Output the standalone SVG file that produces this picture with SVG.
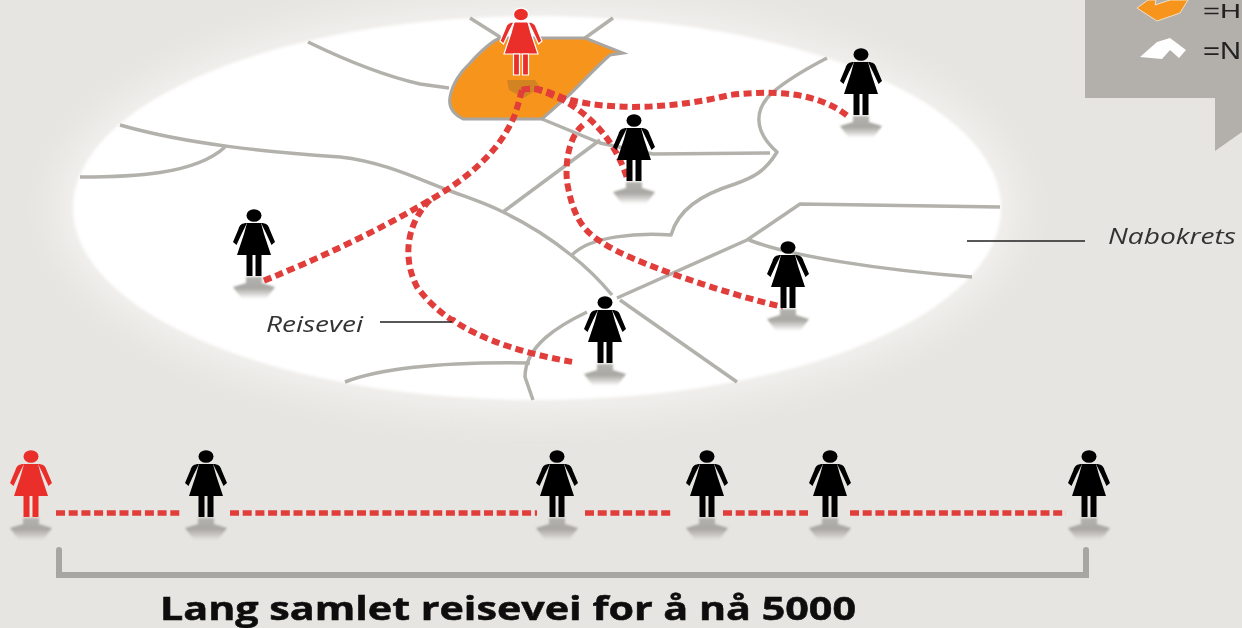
<svg xmlns="http://www.w3.org/2000/svg" width="1242" height="628" viewBox="0 0 1242 628">
<style>
.road{fill:none;stroke:#b3b1ac;stroke-width:3.500;stroke-linejoin:round}
.trip{fill:none;stroke:#e03c3a;stroke-width:6;stroke-dasharray:8 4.500}
.row{fill:none;stroke:#e03c3a;stroke-width:5.500;stroke-dasharray:9 3.700}
.lead{fill:none;stroke:#222;stroke-width:1.500}
.lab{font-family:"Open Sans","Liberation Sans",sans-serif;font-style:italic;font-size:22px;fill:#333}
.leg{font-family:"Liberation Sans",Arial,sans-serif;font-size:23px;fill:#222}
.red{fill:#ea2f2c}
.blk{fill:#050505}
</style>
<defs>
<filter id="glow" x="-20%" y="-30%" width="140%" height="160%"><feGaussianBlur stdDeviation="20"/></filter>
<filter id="edge" x="-5%" y="-5%" width="110%" height="110%"><feGaussianBlur stdDeviation="1.500"/></filter>
<filter id="soft" x="-5%" y="-5%" width="110%" height="110%"><feGaussianBlur stdDeviation="0.7"/></filter>
<filter id="shblur" x="-20%" y="-20%" width="140%" height="140%"><feGaussianBlur stdDeviation="1.300"/></filter>
<linearGradient id="sh" x1="0" y1="0" x2="0" y2="1"><stop offset="0" stop-color="#b5b3af"/><stop offset=".5" stop-color="#a9a7a3"/><stop offset="1" stop-color="#a9a7a3" stop-opacity="0"/></linearGradient>
<g id="person">
<ellipse cx="0" cy="6.500" rx="7.500" ry="6.300"/>
<path d="M-7 14H7L10 25 17 46H-17L-10 25Z"/>
<path d="M-7 14C-12 14-14.500 16-15.500 20L-21 33-17.500 36-12 24-9 18ZM7 14C12 14 14.500 16 15.500 20L21 33 17.500 36 12 24 9 18Z"/>
<path d="M-7.500 46H-1.500V67H-7.500ZM1.500 46H7.500V67H1.500Z"/>
</g>
<path id="shadow" d="M-8 68H8V74L21 78 12 90H-12L-21 78-8 74Z" fill="url(#sh)" filter="url(#shblur)"/>
</defs>
<rect width="1242" height="628" fill="#e7e5e1"/>
<ellipse cx="537" cy="208" rx="480" ry="205" fill="#fff" opacity="0.5" filter="url(#glow)"/>
<ellipse id="map" cx="537" cy="208" rx="464" ry="192" fill="#fff" filter="url(#edge)"/>
<g id="roads" filter="url(#soft)">
<path class="road" d="M308 42C345 60 385 76 420 84L449 88"/>
<path class="road" d="M470 18L500 37"/>
<path class="road" d="M585 38L613 18"/>
<path class="road" d="M120 125C190 145 270 152 340 157C385 162 420 180 453 192C475 200 490 205 503 212C530 225 555 242 571 255C590 270 602 283 612 295"/>
<path class="road" d="M620 300L737 382"/>
<path class="road" d="M80 177C130 177 195 175 225 147"/>
<path class="road" d="M542 119L600 143L653 154L770 153"/>
<path class="road" d="M503 212L600 140"/>
<path class="road" d="M827 58C800 72 785 82 773 92C755 108 752 130 777 152C765 172 752 178 735 184C700 195 678 210 671 235C640 233 590 235 571 256"/>
<path class="road" d="M1000 207L800 204L747 240L617 298"/>
<path class="road" d="M587 312C560 325 525 345 525 377L533 400"/>
<path class="road" d="M749 240C790 256 880 270 972 277"/>
<path class="road" d="M345 382C390 365 460 362 530 363"/>
<path id="home" d="M450 97C452 85 460 72 470 63C480 52 490 42 500 38H585L623 53L610 55C595 68 580 85 567 97L542 119H463C455 115 448 108 450 97Z" fill="#f7941e" stroke="#a9a6a1" stroke-width="3"/>
<path d="M507 80H535L540 87 524 98 509 90Z" fill="#b97a25" opacity=".6"/>
</g>
<g id="connectors" filter="url(#soft)">
<path class="trip" d="M522 90C518 105 515 117 510 125C495 155 465 180 430 200C380 230 320 258 263 281"/>
<path class="trip" d="M522 90C540 85 555 96 570 100C620 112 680 107 730 95C775 90 820 92 850 118"/>
<path class="trip" d="M522 90C535 85 550 95 563 100C590 115 615 140 627 178"/>
<path class="trip" d="M583 125C565 140 565 175 568 187C575 225 590 235 603 243C630 262 730 295 783 307"/>
<path class="trip" d="M430 200C405 225 403 260 417 287C430 305 450 320 453 320C480 340 530 355 573 362"/>
<path class="row" d="M56 513H183M230 513H537M585 513H672M723 513H808M850 513H1066"/>
<path d="M59 550V575H1086V550" fill="none" stroke="#a8a6a2" stroke-width="6" stroke-linecap="round"/>
<path class="lead" d="M967 241H1085M380 322H452"/>
</g>
<g id="legend" filter="url(#soft)">
<path d="M1085 0H1242V132L1215 151V98H1085Z" fill="#b3b0ab"/>
<path d="M1137 8L1148 0H1156L1155 5 1170 0H1188L1180 13 1157 21Z" fill="#f7941e" stroke="#efe0c6" stroke-width="1"/>
<path d="M1140 57L1157 42 1170 38 1186 50 1179 58 1170 50 1162 59Z" fill="#fff"/>
<text class="leg" x="1203" y="18" font-size="20" style="font-size:20px" textLength="38" lengthAdjust="spacingAndGlyphs">=H</text>
<text class="leg" x="1203" y="59" textLength="38" lengthAdjust="spacingAndGlyphs">=N</text>
</g>
<g id="map-people" filter="url(#soft)">
<g id="p-home"><use href="#person" x="521" y="8" class="red" stroke="#fff" stroke-width="1.200"/></g>
<g id="p-a"><use href="#shadow" x="861" y="48"/><use href="#person" x="861" y="48" class="blk"/></g>
<g id="p-b"><use href="#shadow" x="634" y="114"/><use href="#person" x="634" y="114" class="blk"/></g>
<g id="p-c"><use href="#shadow" x="254" y="209"/><use href="#person" x="254" y="209" class="blk"/></g>
<g id="p-d"><use href="#shadow" x="788" y="241"/><use href="#person" x="788" y="241" class="blk"/></g>
<g id="p-e"><use href="#shadow" x="605" y="296"/><use href="#person" x="605" y="296" class="blk"/></g>
</g>
<g id="row-people" filter="url(#soft)">
<g id="r-0"><use href="#shadow" x="31" y="450"/><use href="#person" x="31" y="450" class="red"/></g>
<g id="r-1"><use href="#shadow" x="206" y="450"/><use href="#person" x="206" y="450" class="blk"/></g>
<g id="r-2"><use href="#shadow" x="557" y="450"/><use href="#person" x="557" y="450" class="blk"/></g>
<g id="r-3"><use href="#shadow" x="707" y="450"/><use href="#person" x="707" y="450" class="blk"/></g>
<g id="r-4"><use href="#shadow" x="830" y="450"/><use href="#person" x="830" y="450" class="blk"/></g>
<g id="r-5"><use href="#shadow" x="1089" y="450"/><use href="#person" x="1089" y="450" class="blk"/></g>
</g>
<g id="labels" filter="url(#soft)">
<text class="lab" x="1108" y="244" textLength="128" lengthAdjust="spacingAndGlyphs">Nabokrets</text>
<text class="lab" x="266" y="332" textLength="97" lengthAdjust="spacingAndGlyphs">Reisevei</text>
<text x="160" y="620" font-family="'Open Sans','Liberation Sans',sans-serif" font-weight="700" font-size="32" fill="#0a0a0a" stroke="#0a0a0a" stroke-width=".5" textLength="696" lengthAdjust="spacingAndGlyphs">Lang samlet reisevei for å nå 5000</text>
</g>
</svg>
